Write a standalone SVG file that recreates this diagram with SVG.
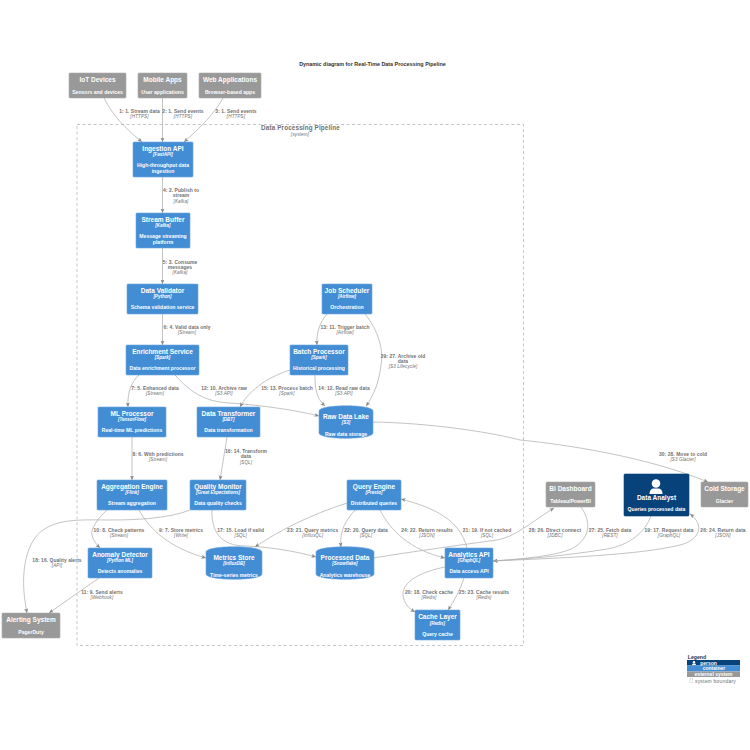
<svg xmlns="http://www.w3.org/2000/svg" width="750" height="750" viewBox="0 0 750 750">
<style>
text{font-family:"Liberation Sans","Open Sans",sans-serif;text-anchor:middle}
.c{fill:#438DD5;stroke:#6BA5DE;stroke-width:.6}
.x{fill:#999999;stroke:#ABABAB;stroke-width:.6}
.p{fill:#08427B;stroke:#08427B;stroke-width:.6}
.t{font-size:6.5px;font-weight:700;fill:#fff}
.k{font-size:4.5px;font-weight:700;font-style:italic;fill:#fff}
.d{font-size:5.1px;font-weight:700;fill:#fff}
.l{font-size:4.9px;font-weight:700;fill:#707070;letter-spacing:.08px}
.m{font-size:4.6px;font-style:italic;fill:#707070;letter-spacing:.1px}
#edges path{fill:none;stroke:#B4B4B4;stroke-width:.8;marker-end:url(#a)}
</style>
<defs>
<marker id="a" markerUnits="userSpaceOnUse" markerWidth="6" markerHeight="6" refX="4.5" refY="2.5" orient="auto"><path d="M0,0.5 L4.5,2.5 L0,4.5 L1,2.5 Z" fill="#888"/></marker>
</defs>
<rect width="750" height="750" fill="#fff"/>
<text x="372.500" y="66" style="font-size:5.4px;font-weight:700;fill:#333">Dynamic diagram for Real-Time Data Processing Pipeline</text>
<g id="boundary">
<rect x="77" y="124.500" width="446.500" height="521" fill="none" stroke="#B8B8B8" stroke-width=".8" stroke-dasharray="3,2.5"/>
<text x="300.500" y="130" style="font-size:6.3px;font-weight:700;fill:#707070;letter-spacing:.15px">Data Processing Pipeline</text>
<text x="300" y="135.500" class="m">[system]</text>
</g>
<g id="edges">
<path d="M104,98 C113,116 125,128 142,142"/>
<path d="M162.500,98 L162.500,142"/>
<path d="M223,98 C215,113 200,128 184,142"/>
<path d="M162.500,177 L162.500,213"/>
<path d="M162.500,248 L162.500,284"/>
<path d="M162.500,314 L162.500,345"/>
<path d="M139,375 C132,381 127,392 128,407"/>
<path d="M132,437 L132,480"/>
<path d="M175,375 C190,392 205,402 230,403 C260,405 295,410 319,416"/>
<path d="M327,314 C320,322 316,333 317,345"/>
<path d="M365,314 C378,330 384,350 381,365 C379,382 374,395 366,406"/>
<path d="M315,375 C315,388 316,398 325,406"/>
<path d="M290,370 C265,378 248,392 240,407"/>
<path d="M227,437 L220,480"/>
<path d="M139,510 C150,530 170,548 206,558"/>
<path d="M107,510 C98,518 90,530 92,535 C93,540 96,544 100,548"/>
<path d="M99,578 L49,613"/>
<path d="M190,510 C170,518 140,520 110,520 C85,520 60,518 43,530 C28,540 18,570 27,613"/>
<path d="M212,510 C211,530 220,546 245,546 C270,547 295,551 316,557"/>
<path d="M347,503 C310,515 280,530 255,547"/>
<path d="M355,510 C347,519 339,530 341,547"/>
<path d="M380,510 C390,530 410,550 445,558"/>
<path d="M467,548 C460,520 435,508 401,499"/>
<path d="M445,567 C420,572 402,582 403,595 C404,603 408,608 415,612"/>
<path d="M464,578 C460,590 455,600 448,610"/>
<path d="M373,558 C410,552 460,545 497,540 C515,537 530,523 554,508"/>
<path d="M581,507 C590,520 592,535 575,547 C560,556 520,559 493,561"/>
<path d="M651,516 C645,532 630,545 607,549 C570,555 530,559 493,561"/>
<path d="M493,561 C560,558 640,555 680,545 C700,540 705,525 690,514"/>
<path d="M373,422 C430,423 490,432 520,440 C590,447 660,462 708,482"/>
</g>
<g id="edge-labels">
<text x="139.500" y="113" class="l">1: 1. Stream data</text><text x="139.500" y="118.300" class="m">[HTTPS]</text>
<text x="183" y="113" class="l">2: 1. Send events</text><text x="183" y="118.300" class="m">[HTTPS]</text>
<text x="236" y="113" class="l">3: 1. Send events</text><text x="236" y="118.300" class="m">[HTTPS]</text>
<text x="181" y="192" class="l">4: 2. Publish to</text><text x="181" y="197.300" class="l">stream</text><text x="181" y="202.600" class="m">[Kafka]</text>
<text x="180" y="263.500" class="l">5: 3. Consume</text><text x="180" y="268.800" class="l">messages</text><text x="180" y="274" class="m">[Kafka]</text>
<text x="187" y="329" class="l">6: 4. Valid data only</text><text x="187" y="334.300" class="m">[Stream]</text>
<text x="155" y="389.500" class="l">7: 5. Enhanced data</text><text x="155" y="394.800" class="m">[Stream]</text>
<text x="224" y="389.500" class="l">12: 10. Archive raw</text><text x="224" y="394.800" class="m">[S3 API]</text>
<text x="287" y="389.500" class="l">15: 13. Process batch</text><text x="287" y="394.800" class="m">[Spark]</text>
<text x="344" y="389.500" class="l">14: 12. Read raw data</text><text x="344" y="394.800" class="m">[S3 API]</text>
<text x="345" y="329" class="l">13: 11. Trigger batch</text><text x="345" y="334.300" class="m">[Airflow]</text>
<text x="403" y="357.500" class="l">29: 27. Archive old</text><text x="403" y="362.800" class="l">data</text><text x="403" y="368" class="m">[S3 Lifecycle]</text>
<text x="158" y="456" class="l">8: 6. With predictions</text><text x="158" y="461.300" class="m">[Stream]</text>
<text x="246" y="453" class="l">16: 14. Transform</text><text x="246" y="458.300" class="l">data</text><text x="246" y="463.500" class="m">[SQL]</text>
<text x="119" y="531.500" class="l">10: 8. Check patterns</text><text x="119" y="536.800" class="m">[Stream]</text>
<text x="181" y="531.500" class="l">9: 7. Store metrics</text><text x="181" y="536.800" class="m">[Write]</text>
<text x="240.700" y="531.500" class="l">17: 15. Load if valid</text><text x="240.700" y="536.800" class="m">[SQL]</text>
<text x="312.700" y="531.500" class="l">23: 21. Query metrics</text><text x="312.700" y="536.800" class="m">[InfluxQL]</text>
<text x="366" y="531.500" class="l">22: 20. Query data</text><text x="366" y="536.800" class="m">[SQL]</text>
<text x="427" y="531.500" class="l">24: 22. Return results</text><text x="427" y="536.800" class="m">[JSON]</text>
<text x="487" y="531.500" class="l">21: 19. If not cached</text><text x="487" y="536.800" class="m">[SQL]</text>
<text x="555" y="531.500" class="l">28: 26. Direct connect</text><text x="555" y="536.800" class="m">[JDBC]</text>
<text x="610" y="531.500" class="l">27: 25. Fetch data</text><text x="610" y="536.800" class="m">[REST]</text>
<text x="669" y="531.500" class="l">19: 17. Request data</text><text x="669" y="536.800" class="m">[GraphQL]</text>
<text x="723" y="531.500" class="l">26: 24. Return data</text><text x="723" y="536.800" class="m">[JSON]</text>
<text x="683" y="456" class="l">30: 28. Move to cold</text><text x="683" y="461.300" class="m">[S3 Glacier]</text>
<text x="57" y="562" class="l">18: 16. Quality alerts</text><text x="57" y="567.300" class="m">[API]</text>
<text x="102" y="594" class="l">11: 9. Send alerts</text><text x="102" y="599.300" class="m">[Webhook]</text>
<text x="429" y="594" class="l">20: 18. Check cache</text><text x="429" y="599.300" class="m">[Redis]</text>
<text x="484" y="594" class="l">25: 23. Cache results</text><text x="484" y="599.300" class="m">[Redis]</text>
</g>
<g id="iot"><rect class="x" x="69" y="73" width="57" height="25" rx="1"/><text class="t" x="97.500" y="82">IoT Devices</text><text class="d" x="97.500" y="94">Sensors and devices</text></g>
<g id="mobile"><rect class="x" x="138" y="73" width="49" height="25" rx="1"/><text class="t" x="162.500" y="82">Mobile Apps</text><text class="d" x="162.500" y="94">User applications</text></g>
<g id="web"><rect class="x" x="199" y="73" width="62" height="25" rx="1"/><text class="t" x="230" y="82">Web Applications</text><text class="d" x="230" y="94">Browser-based apps</text></g>
<g id="ingestion"><rect class="c" x="133" y="142" width="60" height="35" rx="1"/><text class="t" x="163" y="151">Ingestion API</text><text class="k" x="163" y="156.400">[FastAPI]</text><text class="d" x="163" y="167">High-throughput data</text><text class="d" x="163" y="173">ingestion</text></g>
<g id="buffer"><rect class="c" x="136" y="213" width="54" height="35" rx="1"/><text class="t" x="163" y="222">Stream Buffer</text><text class="k" x="163" y="227.400">[Kafka]</text><text class="d" x="163" y="238">Message streaming</text><text class="d" x="163" y="244">platform</text></g>
<g id="validator"><rect class="c" x="127" y="284" width="71" height="30" rx="1"/><text class="t" x="162.500" y="293">Data Validator</text><text class="k" x="162.500" y="298.400">[Python]</text><text class="d" x="162.500" y="309">Schema validation service</text></g>
<g id="enrichment"><rect class="c" x="126" y="345" width="73" height="30" rx="1"/><text class="t" x="162.500" y="354">Enrichment Service</text><text class="k" x="162.500" y="359.400">[Spark]</text><text class="d" x="162.500" y="370">Data enrichment processor</text></g>
<g id="scheduler"><rect class="c" x="322" y="284" width="50" height="30" rx="1"/><text class="t" x="347" y="293">Job Scheduler</text><text class="k" x="347" y="298.400">[Airflow]</text><text class="d" x="347" y="309">Orchestration</text></g>
<g id="batch"><rect class="c" x="290" y="345" width="58" height="30" rx="1"/><text class="t" x="319" y="354">Batch Processor</text><text class="k" x="319" y="359.400">[Spark]</text><text class="d" x="319" y="370">Historical processing</text></g>
<g id="lake"><path class="c" d="M319,411 C319,404 373,404 373,411 L373,433 C373,440 319,440 319,433 Z"/><text class="t" x="346" y="419">Raw Data Lake</text><text class="k" x="346" y="424.400">[S3]</text><text class="d" x="346" y="436">Raw data storage</text></g>
<g id="ml"><rect class="c" x="98" y="407" width="68" height="30" rx="1"/><text class="t" x="132" y="416">ML Processor</text><text class="k" x="132" y="421.400">[TensorFlow]</text><text class="d" x="132" y="432">Real-time ML predictions</text></g>
<g id="transformer"><rect class="c" x="197" y="407" width="63" height="30" rx="1"/><text class="t" x="228.500" y="416">Data Transformer</text><text class="k" x="228.500" y="421.400">[DBT]</text><text class="d" x="228.500" y="432">Data transformation</text></g>
<g id="aggregation"><rect class="c" x="97" y="480" width="70" height="30" rx="1"/><text class="t" x="132" y="489">Aggregation Engine</text><text class="k" x="132" y="494.400">[Flink]</text><text class="d" x="132" y="505">Stream aggregation</text></g>
<g id="quality"><rect class="c" x="190" y="480" width="56" height="30" rx="1"/><text class="t" x="218" y="489">Quality Monitor</text><text class="k" x="218" y="494.400">[Great Expectations]</text><text class="d" x="218" y="505">Data quality checks</text></g>
<g id="anomaly"><rect class="c" x="88" y="548" width="64" height="30" rx="1"/><text class="t" x="120" y="557">Anomaly Detector</text><text class="k" x="120" y="562.400">[Python ML]</text><text class="d" x="120" y="573">Detects anomalies</text></g>
<g id="alerting"><rect class="x" x="2" y="613" width="58" height="25" rx="1"/><text class="t" x="31" y="622">Alerting System</text><text class="d" x="31" y="633.500">PagerDuty</text></g>
<g id="metrics"><path class="c" d="M206,552 C206,545 262,545 262,552 L262,574 C262,581 206,581 206,574 Z"/><text class="t" x="234" y="560">Metrics Store</text><text class="k" x="234" y="565.400">[InfluxDB]</text><text class="d" x="234" y="577">Time-series metrics</text></g>
<g id="processed"><path class="c" d="M316,552 C316,545 374,545 374,552 L374,574 C374,581 316,581 316,574 Z"/><text class="t" x="345" y="560">Processed Data</text><text class="k" x="345" y="565.400">[Snowflake]</text><text class="d" x="345" y="577">Analytics warehouse</text></g>
<g id="query"><rect class="c" x="347" y="480" width="54" height="30" rx="1"/><text class="t" x="374" y="489">Query Engine</text><text class="k" x="374" y="494.400">[Presto]</text><text class="d" x="374" y="505">Distributed queries</text></g>
<g id="analytics"><rect class="c" x="445" y="548" width="48" height="30" rx="1"/><text class="t" x="469" y="557">Analytics API</text><text class="k" x="469" y="562.400">[GraphQL]</text><text class="d" x="469" y="573">Data access API</text></g>
<g id="cache"><rect class="c" x="415" y="610" width="45" height="30" rx="1"/><text class="t" x="437.500" y="619">Cache Layer</text><text class="k" x="437.500" y="625">[Redis]</text><text class="d" x="437.500" y="636">Query cache</text></g>
<g id="bi"><rect class="x" x="546" y="482" width="49" height="25" rx="1"/><text class="t" x="570.500" y="491">BI Dashboard</text><text class="d" x="570.500" y="503">Tableau/PowerBI</text></g>
<g id="analyst"><rect class="p" x="624" y="474" width="65" height="42" rx="1"/><circle cx="656" cy="483.500" r="4.300" fill="#fff"/><path d="M649.500,494 Q649.500,488.500 654,488.500 L658,488.500 Q662.500,488.500 662.500,494 Z" fill="#fff"/><text class="t" x="656.500" y="500">Data Analyst</text><text class="d" x="656.500" y="511">Queries processed data</text></g>
<g id="cold"><rect class="x" x="701" y="482" width="47" height="25" rx="1"/><text class="t" x="724.500" y="491">Cold Storage</text><text class="d" x="724.500" y="503">Glacier</text></g>
<g id="legend">
<text x="697" y="659" style="font-size:5.2px;font-weight:700;fill:#333">Legend</text>
<rect x="687" y="660" width="53" height="5.500" fill="#08427B"/>
<rect x="687" y="665.500" width="53" height="6" fill="#438DD5"/>
<rect x="687" y="671.500" width="53" height="5.500" fill="#999999"/>
<circle cx="694" cy="662.300" r="1.200" fill="#fff"/><path d="M692,665 Q692,663.600 694,663.600 Q696,663.600 696,665 Z" fill="#fff"/>
<text x="708.500" y="664.500" style="font-size:5px;font-weight:700;fill:#fff">person</text>
<text x="714" y="670.300" style="font-size:5px;font-weight:700;fill:#fff">container</text>
<text x="713.500" y="676" style="font-size:5px;font-weight:700;fill:#fff">external system</text>
<rect x="690" y="678.500" width="2.500" height="4" fill="none" stroke="#999" stroke-width=".4" stroke-dasharray="1,.5"/>
<text x="715.500" y="682.500" style="font-size:5px;fill:#707070;letter-spacing:.2px">system boundary</text>
</g>
</svg>
